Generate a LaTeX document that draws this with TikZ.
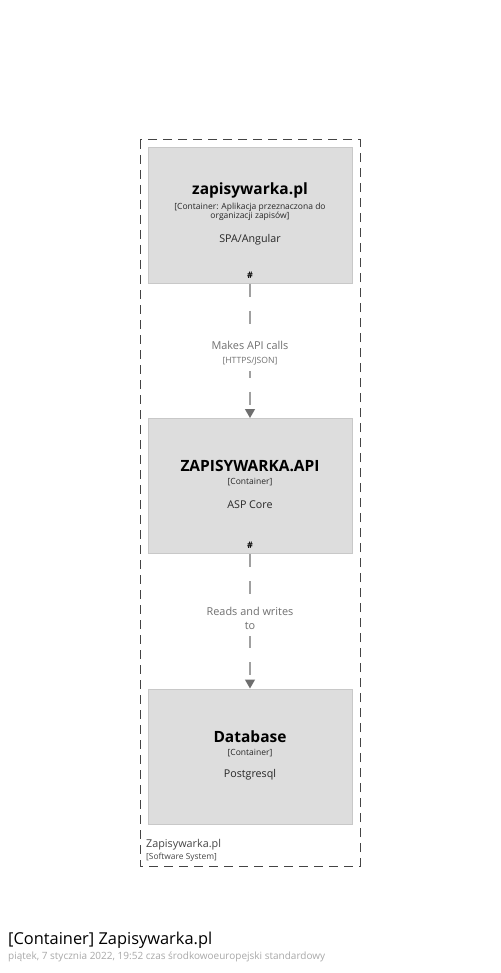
\documentclass[tikz,border=0pt]{standalone}
\usepackage{fontspec}
\setmainfont{Open Sans}
\usetikzlibrary{positioning,arrows.meta}
\definecolor{boxfill}{HTML}{DDDDDD}
\definecolor{boxline}{HTML}{C8C8C8}
\definecolor{relline}{HTML}{A0A0A0}
\definecolor{relhead}{HTML}{6E6E6E}
\definecolor{reltext}{HTML}{707070}
\definecolor{sysline}{HTML}{444444}
\definecolor{datetext}{HTML}{A8A8A8}

\begin{document}
\begin{tikzpicture}[x=1pt,y=-1pt,
  every node/.style={inner sep=0pt},
  container/.style={draw=boxline,fill=boxfill,line width=1pt,minimum width=204pt,minimum height=135pt},
  ctitle/.style={font=\fontsize{15.5}{18}\selectfont\bfseries},
  ctype/.style={font=\fontsize{8.5}{9.5}\selectfont,align=center,text=black!85},
  ctech/.style={font=\fontsize{10.7}{12}\selectfont,text=black!85},
  clink/.style={font=\fontsize{9}{10}\selectfont\bfseries},
  rel/.style={draw=relline,line width=1.3pt,dash pattern=on 13pt off 14pt,
    -{Triangle[width=10pt,length=9pt,color=relhead]}},
  rellabel/.style={fill=white,inner xsep=2pt,inner ysep=6pt,align=center,text=reltext,font=\fontsize{10.9}{14}\selectfont},
  boundary/.style={draw=sysline,line width=1pt,dash pattern=on 9pt off 6pt}]
\useasboundingbox (0,0) rectangle (500,973);
\draw[boundary] (140,140) rectangle (360,866);
\node[anchor=west,text=sysline,font=\fontsize{10.8}{12}\selectfont] (sysname) at (146,845) {Zapisywarka.pl};
\node[anchor=west,text=sysline,font=\fontsize{8.4}{9}\selectfont] (systype) at (146,857) {[Software System]};

\node[container] (spa) at (250,215.5) {};
\node[ctitle] (spatitle) at (250,190) {zapisywarka.pl};
\node[ctype] (spatype) at (250,212) {[Container: Aplikacja przeznaczona do\\organizacji zapisów]};
\node[ctech] (spatech) at (250,240) {SPA/Angular};
\node[clink] (spalink) at (250,275) {\#};

\node[container] (api) at (250,486) {};
\node[ctitle] (apititle) at (250,466) {ZAPISYWARKA.API};
\node[ctype] (apitype) at (250,482) {[Container]};
\node[ctech] (apitech) at (250,505) {ASP Core};
\node[clink] (apilink) at (250,545) {\#};

\node[container] (db) at (250,756.5) {};
\node[ctitle] (dbtitle) at (250,737) {Database};
\node[ctype] (dbtype) at (250,753) {[Container]};
\node[ctech] (dbtech) at (250,775) {Postgresql};

\draw[rel] (spa.south) -- (api.north)
  node[rellabel,pos=.52] {Makes API calls\\{\fontsize{8.6}{10}\selectfont [HTTPS/JSON]}};
\draw[rel] (api.south) -- (db.north)
  node[rellabel,pos=.48] {Reads and writes\\to};

\node[anchor=west,font=\fontsize{16.4}{19}\selectfont] (title) at (8,940) {[Container] Zapisywarka.pl};
\node[anchor=west,text=datetext,font=\fontsize{10}{12}\selectfont] (date) at (8,957) {piątek, 7 stycznia 2022, 19:52 czas środkowoeuropejski standardowy};
\end{tikzpicture}
\end{document}
